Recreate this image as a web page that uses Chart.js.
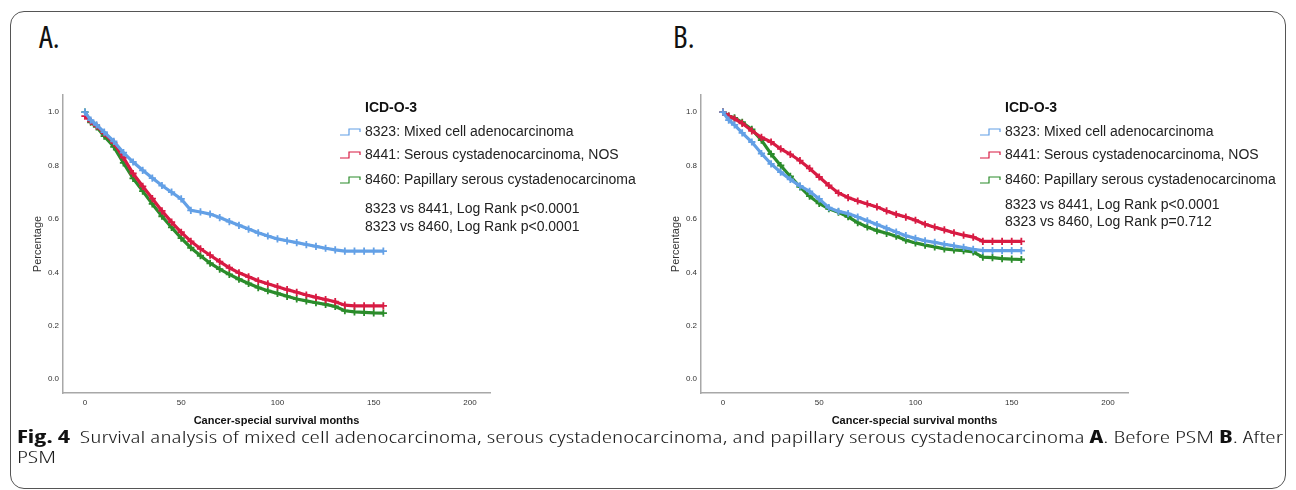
<!DOCTYPE html>
<html>
<head>
<meta charset="utf-8">
<script src="https://cdn.jsdelivr.net/npm/chart.js@4.4.1/dist/chart.umd.min.js"></script>
<style>
  html, body { margin: 0; padding: 0; background: #fff; }
  body { width: 1296px; height: 490px; position: relative; overflow: hidden; font-family: "Liberation Sans", Arial, sans-serif; }
  .frame { position: absolute; left: 10px; top: 11px; width: 1276px; height: 478px; border: 1px solid #555; border-radius: 14px; box-sizing: border-box; }
  .letter { position: absolute; top: 16px; font-family: "Open Sans", sans-serif; font-stretch: 87%; font-size: 31px; color: #111; line-height: 40px; }
  canvas { position: absolute; top: 80px; }
  .leg { position: absolute; font-size: 14px; line-height: 16px; color: #222; white-space: nowrap; }
  .leg.title { font-weight: bold; color: #111; }
  .sym { position: absolute; }
  .caption { position: absolute; left: 17px; top: 427px; font-family: "Open Sans", sans-serif; font-stretch: 75%; font-weight: 300; font-size: 17px; line-height: 20px; color: #1e1e1e; white-space: nowrap; transform-origin: 0 0; }
  .caption b { color: #111; font-weight: 700; }
</style>
</head>
<body>
<div class="frame"></div>
<div class="letter" style="left:39px">A.</div>
<div class="letter" style="left:673px">B.</div>
<canvas id="chartA" width="480" height="355" style="left:20px"></canvas>
<canvas id="chartB" width="480" height="355" style="left:658px"></canvas>
<div id="legA"></div>
<div id="legB"></div>
<div class="caption" id="caption"><span id="capLine"><b>Fig. 4</b>&nbsp; Survival analysis of mixed cell adenocarcinoma, serous cystadenocarcinoma, and papillary serous cystadenocarcinoma <b>A</b>. Before PSM <b>B</b>. After</span><br>PSM</div>
<script>
const MONTHS = [0, 3, 6, 10, 15, 20, 25, 30, 35, 40, 45, 50, 55, 60, 65, 70, 75, 80, 85, 90, 95, 100, 105, 110, 115, 120, 125, 130, 135, 140, 145, 150, 155];

// A. before PSM
const beforeMixed = [1.0, 0.97, 0.952, 0.925, 0.89, 0.848, 0.813, 0.782, 0.753, 0.725, 0.70, 0.675, 0.632, 0.626, 0.618, 0.605, 0.59, 0.576, 0.562, 0.548, 0.536, 0.525, 0.518, 0.511, 0.504, 0.497, 0.49, 0.484, 0.479, 0.479, 0.479, 0.479, 0.479];
const beforeSerous = [0.985, 0.965, 0.948, 0.92, 0.885, 0.83, 0.77, 0.722, 0.676, 0.63, 0.588, 0.55, 0.516, 0.488, 0.464, 0.44, 0.417, 0.398, 0.383, 0.368, 0.357, 0.346, 0.335, 0.325, 0.315, 0.306, 0.298, 0.29, 0.277, 0.274, 0.274, 0.274, 0.274];
const beforePapillary = [1.0, 0.962, 0.945, 0.91, 0.87, 0.81, 0.752, 0.704, 0.656, 0.61, 0.568, 0.528, 0.492, 0.462, 0.434, 0.412, 0.392, 0.374, 0.358, 0.343, 0.331, 0.321, 0.31, 0.30, 0.293, 0.286, 0.28, 0.272, 0.256, 0.252, 0.25, 0.248, 0.247];

// B. after PSM
const afterMixed = [1.0, 0.97, 0.952, 0.922, 0.888, 0.845, 0.806, 0.775, 0.748, 0.724, 0.703, 0.675, 0.642, 0.628, 0.62, 0.607, 0.593, 0.579, 0.565, 0.551, 0.537, 0.527, 0.518, 0.512, 0.505, 0.499, 0.493, 0.486, 0.481, 0.481, 0.481, 0.481, 0.481];
const afterSerous = [1.0, 0.985, 0.975, 0.958, 0.93, 0.905, 0.888, 0.862, 0.842, 0.818, 0.789, 0.757, 0.725, 0.697, 0.68, 0.667, 0.656, 0.645, 0.63, 0.617, 0.607, 0.595, 0.58, 0.569, 0.559, 0.548, 0.539, 0.532, 0.516, 0.516, 0.516, 0.516, 0.516];
const afterPapillary = [1.0, 0.985, 0.978, 0.962, 0.935, 0.895, 0.843, 0.80, 0.759, 0.72, 0.685, 0.658, 0.638, 0.625, 0.608, 0.586, 0.57, 0.556, 0.546, 0.535, 0.52, 0.51, 0.502, 0.495, 0.488, 0.484, 0.481, 0.476, 0.457, 0.455, 0.451, 0.449, 0.448];

const GROUPS = ["8323: Mixed cell adenocarcinoma", "8441: Serous cystadenocarcinoma, NOS", "8460: Papillary serous cystadenocarcinoma"];
const COLORS = ["#63a0e6", "#d81b43", "#2b8c2b"];
const X_TICKS = [0, 50, 100, 150, 200];
const Y_TICKS = [0, 0.2, 0.4, 0.6, 0.8, 1.0];
const STATS_A = ["8323 vs 8441, Log Rank p<0.0001", "8323 vs 8460, Log Rank p<0.0001"];
const STATS_B = ["8323 vs 8441, Log Rank p<0.0001", "8323 vs 8460, Log Rank p=0.712"];

Chart.defaults.font.family = '"Liberation Sans", Arial, sans-serif';
Chart.defaults.color = "#333";

function makePanel(id, seriesList) {
    return new Chart(document.getElementById(id), {
        type: "line",
        data: {
            datasets: seriesList.map((vals, k) => ({
                label: GROUPS[k],
                data: MONTHS.map((m, i) => ({ x: m, y: vals[i] })),
                borderColor: COLORS[k],
                backgroundColor: COLORS[k],
                borderWidth: 3.2,
                pointStyle: "cross",
                pointRadius: 3.6,
                pointBorderWidth: 1.8,
                tension: 0
            }))
        },
        options: {
            responsive: false,
            animation: false,
            layout: { padding: { top: 15, right: 10, left: 0, bottom: 0 } },
            plugins: { legend: { display: false }, tooltip: { enabled: false } },
            scales: {
                x: {
                    type: "linear", min: -11.4, max: 210.4,
                    afterBuildTicks: s => { s.ticks = X_TICKS.map(v => ({ value: v })); },
                    grid: { display: false, drawTicks: false },
                    border: { color: "#a8a8a8", width: 1.5 },
                    ticks: { padding: 5, font: { size: 8 }, color: "#333", maxRotation: 0 },
                    title: { display: true, text: "Cancer-special survival months", font: { size: 11, weight: "bold" }, color: "#111", padding: { top: 0, bottom: 7 } },
                    afterFit: s => { s.height = 42; }
                },
                y: {
                    min: -0.052, max: 1.064,
                    afterBuildTicks: s => { s.ticks = Y_TICKS.map(v => ({ value: v })); },
                    grid: { display: false, drawTicks: false },
                    border: { color: "#a8a8a8", width: 1.5 },
                    ticks: { padding: 4, font: { size: 8 }, color: "#333", callback: v => v.toFixed(1) },
                    title: { display: true, text: "Percentage", font: { size: 11 }, color: "#333", padding: { top: 11, bottom: 0 } },
                    afterFit: s => { s.width = 43; }
                }
            }
        }
    });
}

makePanel("chartA", [beforeMixed, beforeSerous, beforePapillary]);
makePanel("chartB", [afterMixed, afterSerous, afterPapillary]);

// legend + log-rank text placed in the upper right of each plot
function buildLegend(boxId, dx, stats, statsY) {
    const box = document.getElementById(boxId);
    let html = `<div class="leg title" style="left:${365 + dx}px;top:99px">ICD-O-3</div>`;
    const rows = [131, 154, 179];
    GROUPS.forEach((g, k) => {
        html += `<svg class="sym" width="24" height="10" style="left:${340 + dx}px;top:${rows[k] - 4}px"><polyline points="0,8 9,8 9,2 20,2 20,5" fill="none" stroke="${COLORS[k]}" stroke-width="1.2"/></svg>`;
        html += `<div class="leg" style="left:${365 + dx}px;top:${rows[k] - 8}px">${g}</div>`;
    });
    stats.forEach((t, i) => {
        html += `<div class="leg" style="left:${365 + dx}px;top:${statsY[i] - 8}px">${t.replace("<", "&lt;")}</div>`;
    });
    box.innerHTML = html;
}
buildLegend("legA", 0, STATS_A, [208, 226]);
buildLegend("legB", 640, STATS_B, [204, 221]);

// stretch caption's first line to span the frame like the reference
const cap = document.getElementById("caption");
const w = document.getElementById("capLine").getBoundingClientRect().width;
cap.style.transform = `scaleX(${1266 / w})`;
</script>
</body>
</html>
